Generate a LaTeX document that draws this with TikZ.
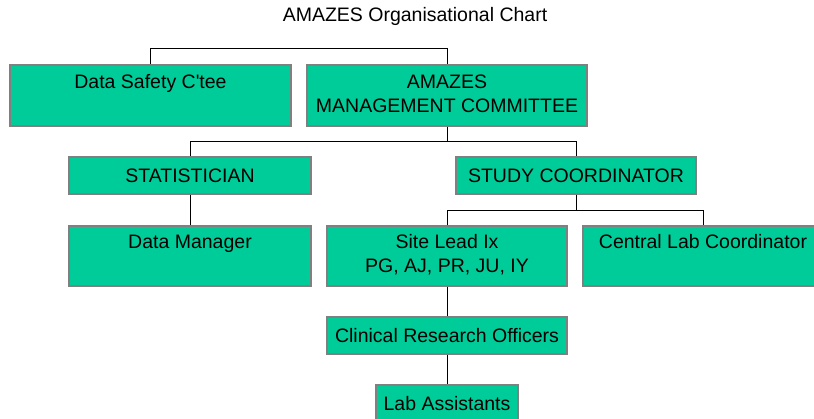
\documentclass[tikz,border=0pt]{standalone}
\usepackage{fontspec}
\setmainfont{Liberation Sans}
\definecolor{chartgreen}{RGB}{0,204,153}
\definecolor{chartedge}{RGB}{128,128,128}
\begin{document}
\begin{tikzpicture}[
x=1pt, y=1pt,
tallbox/.style={rectangle, draw=chartedge, fill=chartgreen, line width=1.3pt, inner sep=0pt, minimum height=61pt, align=center, font=\fontsize{19.5}{24}\selectfont},
lowbox/.style={rectangle, draw=chartedge, fill=chartgreen, line width=1.3pt, inner sep=0pt, minimum height=37pt, align=center, font=\fontsize{19.5}{24}\selectfont},
link/.style={draw=black, line width=1pt},
]
\useasboundingbox (0,0) rectangle (814,419);
%Title
\node[font=\fontsize{19.5}{24}\selectfont] (title) at (415,403) {AMAZES Organisational Chart};

%Nodes
\node[tallbox, minimum width=281pt] (dsc)  at (150.5,323.5) {\strut Data Safety C\textquotesingle tee\\\strut};
\node[tallbox, minimum width=280pt] (amc)  at (447,323.5)   {\strut AMAZES\\\strut MANAGEMENT COMMITTEE};
\node[lowbox,  minimum width=242pt] (stat) at (190,243.5)   {STATISTICIAN};
\node[lowbox,  minimum width=240pt] (sc)   at (576,243.5)   {STUDY COORDINATOR};
\node[tallbox, minimum width=242pt, minimum height=60pt] (dm)  at (190,163) {\strut Data Manager\\\strut};
\node[tallbox, minimum width=240pt, minimum height=60pt] (sl)  at (447,163) {\strut Site Lead Ix\\\strut PG, AJ, PR, JU, IY};
\node[tallbox, minimum width=240pt, minimum height=60pt] (clc) at (703,163) {\strut Central Lab Coordinator\\\strut};
\node[lowbox,  minimum width=240pt] (cro)  at (447,83.5)    {Clinical Research Officers};
\node[lowbox,  minimum width=142pt] (la)   at (447,15.5)    {Lab Assistants};

%Lines
\draw[link] (dsc.north) -- ++(0,16) -| (amc.north);
\draw[link] (amc.south) -- ++(0,-15) coordinate (amcbar);
\draw[link] (stat.north) |- (amcbar) -| (sc.north);
\draw[link] (stat.south) -- (dm.north);
\draw[link] (sc.south) -- ++(0,-15.5) coordinate (scbar);
\draw[link] (sl.north) |- (scbar) -| (clc.north);
\draw[link] (sl.south) -- (cro.north);
\draw[link] (cro.south) -- (la.north);
\end{tikzpicture}
\end{document}
